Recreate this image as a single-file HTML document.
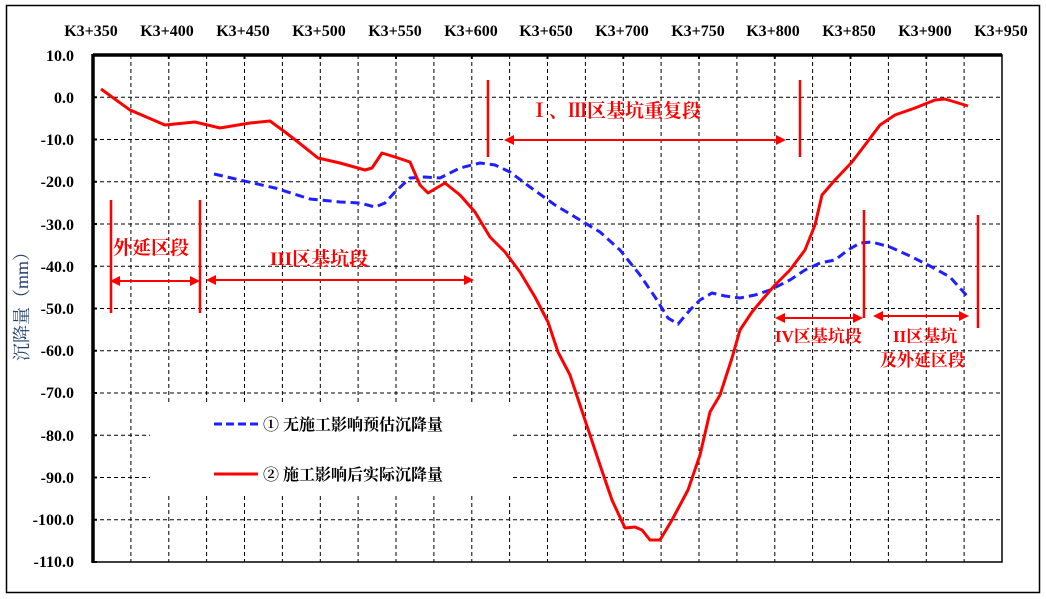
<!DOCTYPE html>
<html><head><meta charset="utf-8"><style>
body{margin:0;background:#fff;}
svg{display:block;}
</style></head><body>
<svg width="1046" height="599" xmlns="http://www.w3.org/2000/svg" font-family="'Liberation Serif','Noto Serif CJK SC',serif">
<rect x="6.5" y="5.5" width="1033" height="587" fill="#fff" stroke="#000" stroke-width="1.5"/>
<g stroke="#000" stroke-width="1" stroke-dasharray="4,3" fill="none">
<path d="M93 139.5H1002M93 181.8H1002M93 224H1002M93 266.3H1002M93 308.5H1002M93 350.8H1002M93 393H1002M93 435.3H1002M93 477.5H1002M93 519.8H1002M93 97.3H1002"/>
<path d="M130.9 55V562M168.8 55V562M206.6 55V562M244.5 55V562M282.4 55V562M320.3 55V562M358.1 55V562M396 55V562M433.9 55V562M471.8 55V562M509.6 55V562M547.5 55V562M585.4 55V562M623.3 55V562M661.1 55V562M699 55V562M736.9 55V562M774.8 55V562M812.6 55V562M850.5 55V562M888.4 55V562M926.3 55V562M964.1 55V562"/>
</g>
<rect x="150" y="402" width="362" height="94" fill="#fff"/>
<rect x="93" y="55" width="909" height="507" fill="none" stroke="#000" stroke-width="1.5"/>
<path d="M93 55H1002" stroke="#000" stroke-width="3.5"/>
<path d="M93 54V563" stroke="#000" stroke-width="3.5"/>
<g stroke="#000" stroke-width="2">
<path d="M168.8 55v4M244.5 55v4M320.3 55v4M396 55v4M471.8 55v4M547.5 55v4M623.3 55v4M699 55v4M774.8 55v4M850.5 55v4M926.3 55v4"/>
<path d="M93 55h4M93 97.3h4M93 139.5h4M93 181.8h4M93 224h4M93 266.3h4M93 308.5h4M93 350.8h4M93 393h4M93 435.3h4M93 477.5h4M93 519.8h4M93 562h4"/>
</g>
<g font-weight="bold" font-size="16" text-anchor="middle">
<text x="91" y="36">K3+350</text><text x="167" y="36">K3+400</text><text x="243" y="36">K3+450</text><text x="319" y="36">K3+500</text><text x="395" y="36">K3+550</text><text x="471" y="36">K3+600</text><text x="546" y="36">K3+650</text><text x="622" y="36">K3+700</text><text x="698" y="36">K3+750</text><text x="773" y="36">K3+800</text><text x="849" y="36">K3+850</text><text x="925" y="36">K3+900</text><text x="1001" y="36">K3+950</text>
</g>
<g font-weight="bold" font-size="16" text-anchor="end">
<text x="74" y="61">10.0</text><text x="74" y="103">0.0</text><text x="74" y="145">-10.0</text><text x="74" y="187">-20.0</text><text x="74" y="230">-30.0</text><text x="74" y="272">-40.0</text><text x="74" y="314">-50.0</text><text x="74" y="356">-60.0</text><text x="74" y="398">-70.0</text><text x="74" y="441">-80.0</text><text x="74" y="483">-90.0</text><text x="74" y="525">-100.0</text><text x="74" y="567">-110.0</text>
</g>
<text transform="translate(28,302) rotate(-90)" font-size="18" fill="#1f3f6f" text-anchor="middle">沉降量（mm）</text>
<path fill="none" stroke="#1f1fff" stroke-width="3" stroke-dasharray="9,5" d="M214 174 L240 180 L275 188 L310 199 L340 202 L360 203 L375 207 L385 203 L395 192 L410 178 L425 177 L440 178 L460 168 L480 163 L495 165 L510 172 L530 187 L555 205 L580 220 L600 232 L620 250 L640 275 L655 297 L668 318 L678 324 L690 310 L700 300 L712 293 L725 296 L740 298 L755 295 L770 290 L790 280 L805 270 L820 263 L835 260 L848 250 L860 243 L872 242 L890 247 L910 256 L930 266 L950 277 L968 297"/>
<path fill="none" stroke="#ff0000" stroke-width="3" stroke-linejoin="round" d="M101 89 L130 110 L165 125 L195 122 L220 128 L250 123 L270 121 L285 132 L298 142 L318 158 L340 163 L365 170 L372 168 L382 153 L395 157 L410 162 L420 185 L428 193 L445 183 L460 195 L475 212 L490 237 L505 252 L520 272 L535 297 L548 322 L558 352 L570 375 L585 420 L600 465 L612 500 L625 528 L635 527 L642 530 L650 540 L660 540 L672 520 L688 490 L700 455 L710 412 L720 395 L732 358 L740 330 L752 312 L762 300 L775 285 L790 270 L805 250 L815 225 L822 195 L835 180 L852 162 L865 145 L880 125 L895 115 L915 108 L935 100 L945 99 L955 102 L968 106"/>
<g stroke="#ff0000" stroke-width="2.5" fill="#ff0000">
<path d="M111 200V313M200 200V313M488 80V157M800 80V157M864 210V318M978 215V328" fill="none"/>
<path d="M118 281H194M214 280H466M512 140H778M782 318H856M880 316H962" fill="none" stroke-width="2"/>
<path d="M110 281l10-5v10zM200 281l-10-5v10zM206 280l10-5v10zM474 280l-10-5v10zM504 140l10-5v10zM786 140l-10-5v10zM775 318l10-5v10zM863 318l-10-5v10zM873 316l10-5v10zM969 316l-10-5v10z" stroke="none"/>
</g>
<g fill="#ff0000" font-size="19" font-weight="bold">
<text x="113" y="254">外延区段</text>
<text x="270" y="265">III区基坑段</text>
<text x="530" y="117">Ⅰ、Ⅲ区基坑重复段</text>
<text x="775" y="342" font-size="17">IV区基坑段</text>
<text x="893" y="342" font-size="17">II区基坑</text>
<text x="880" y="366" font-size="17">及外延区段</text>
</g>
<path d="M214 424H258" stroke="#1f1fff" stroke-width="3" stroke-dasharray="8,4"/>
<path d="M214 474H258" stroke="#ff0000" stroke-width="3"/>
<g font-size="16" font-weight="bold" fill="#000">
<text x="263" y="430">① 无施工影响预估沉降量</text>
<text x="263" y="480">② 施工影响后实际沉降量</text>
</g>
</svg>
</body></html>
